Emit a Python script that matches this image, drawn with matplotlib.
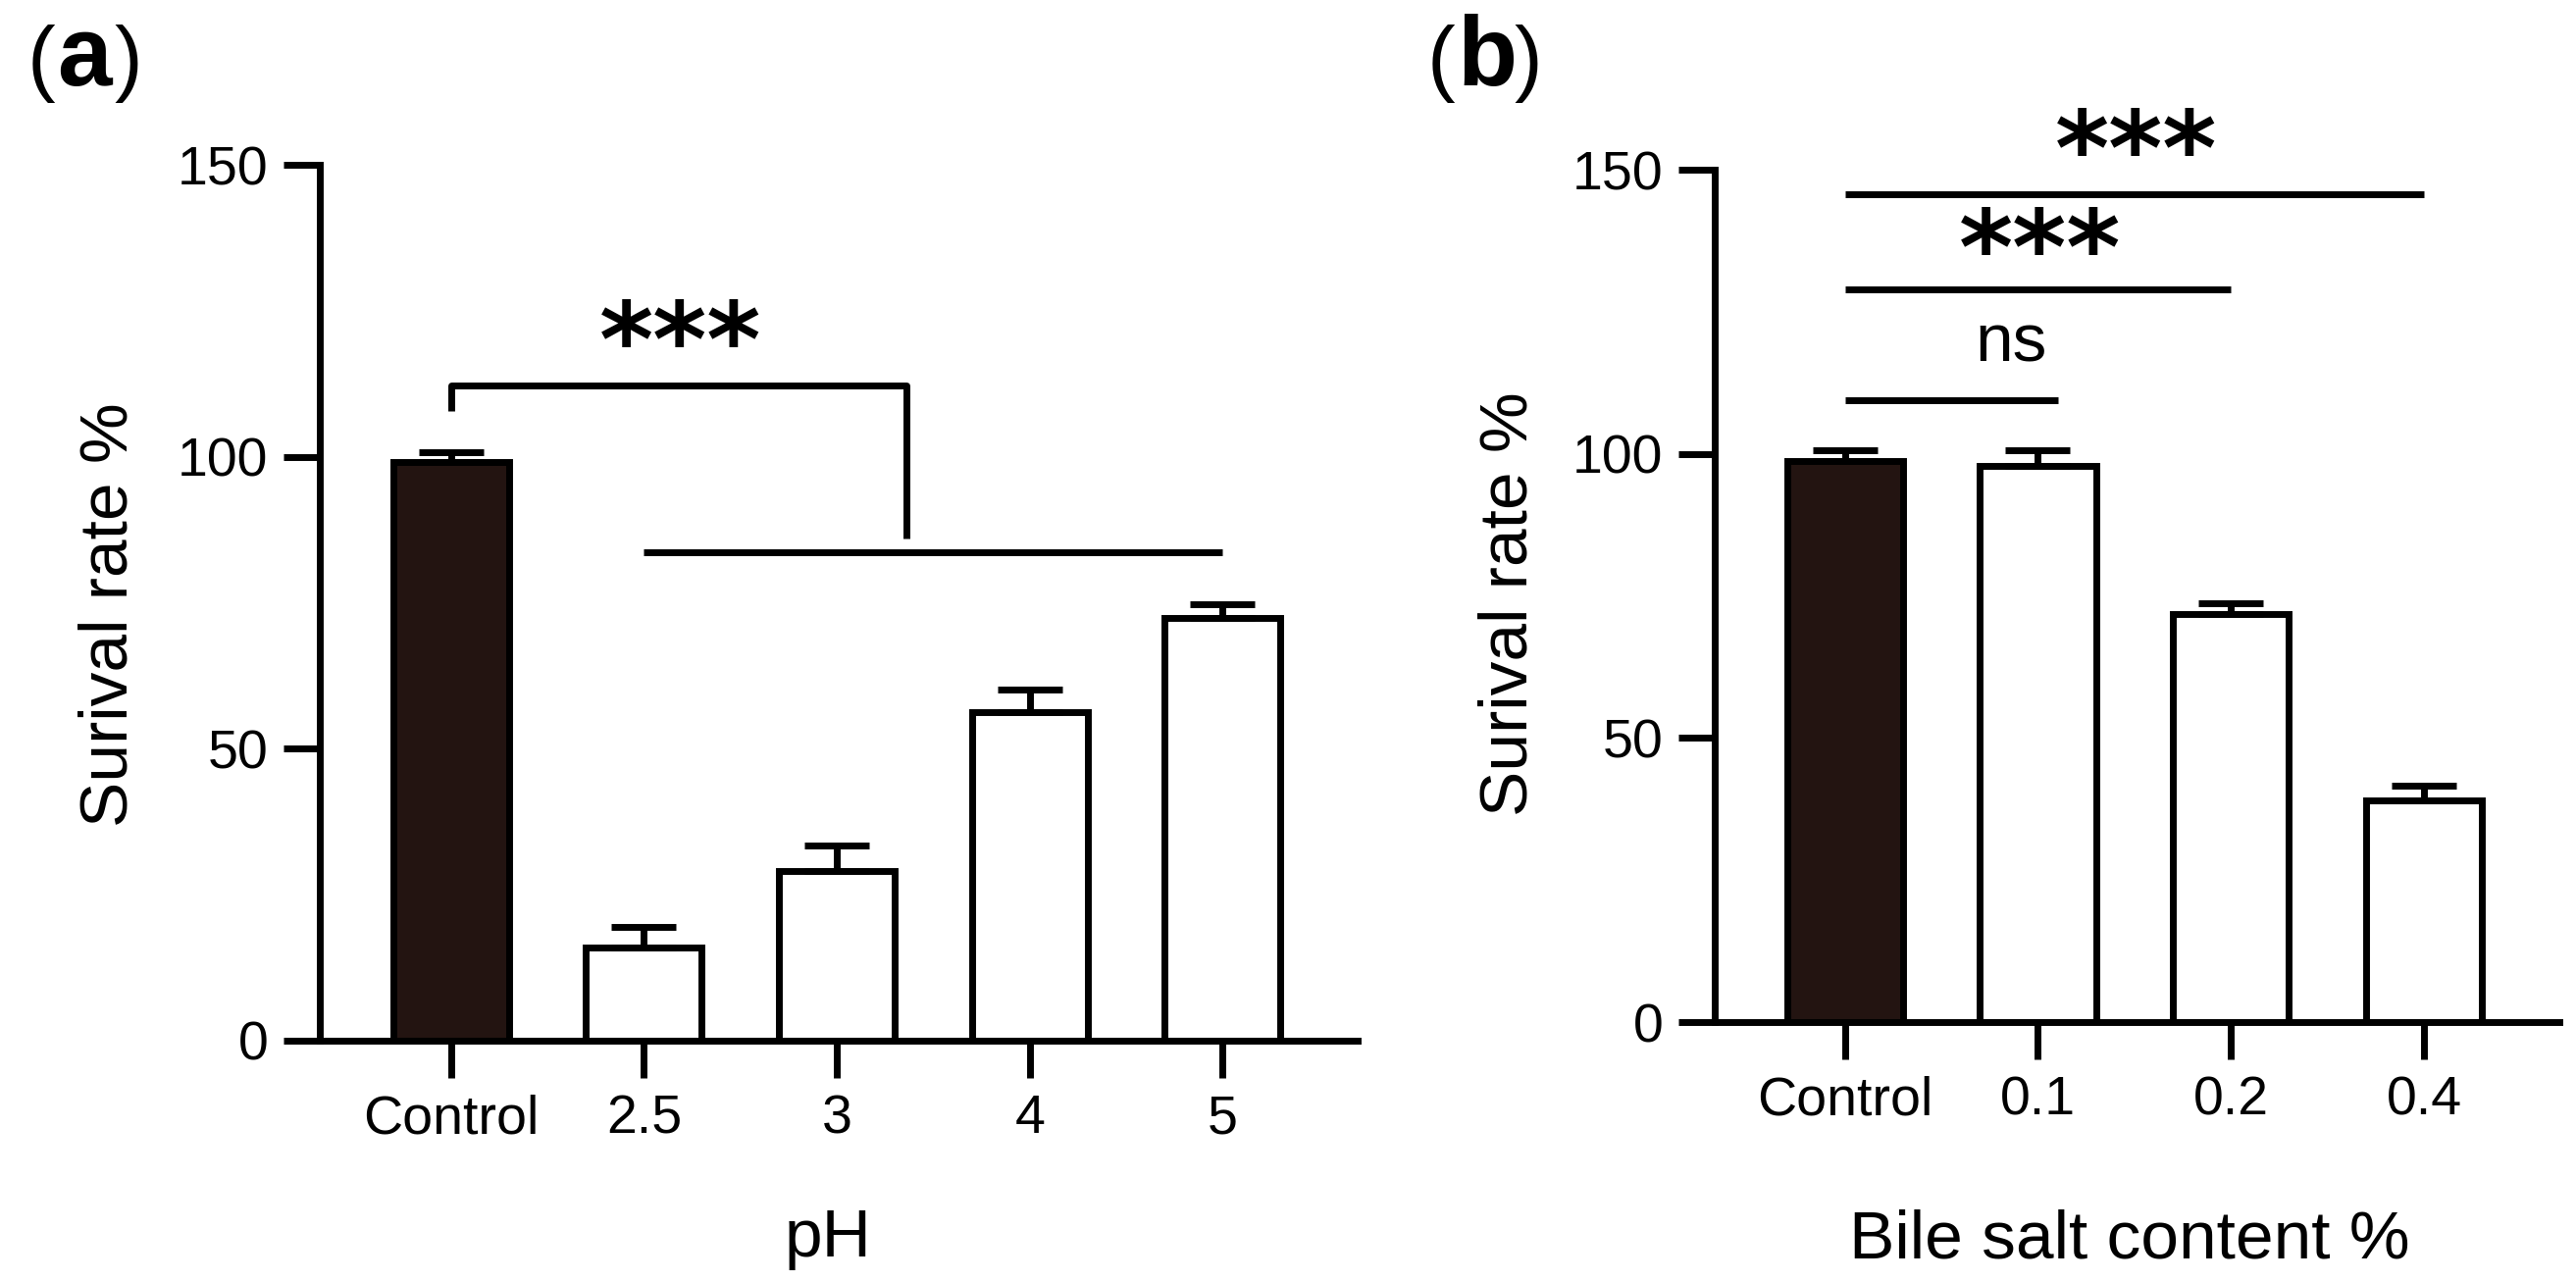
import matplotlib
matplotlib.use('Agg')
import matplotlib.pyplot as plt
import numpy as np

plt.rcParams['font.family'] = ['Liberation Sans', 'DejaVu Sans']

# panel a: acid tolerance
ph_labels = ['Control', '2.5', '3', '4', '5']
ph_mean = [99.1, 15.9, 29.0, 56.3, 72.5]
ph_err = [1.8, 3.6, 4.5, 3.8, 2.2]

# panel b: bile salt tolerance
bile_labels = ['Control', '0.1', '0.2', '0.4']
bile_mean = [98.7, 97.9, 71.8, 39.1]
bile_err = [1.9, 2.8, 2.0, 2.6]

dark = '#231411'
lw = 2.5

fig = plt.figure(figsize=(13.13, 6.53), dpi=200)
ax_a = fig.add_axes([0.12414, 0.18760, 0.40290, 0.68353])
ax_b = fig.add_axes([0.66576, 0.20214, 0.32777, 0.66516])


def draw_bars(ax, labels, mean, err, xlim):
    x = np.arange(len(labels))
    colors = [dark] + ['white'] * (len(labels) - 1)
    ax.bar(x, mean, width=0.6, color=colors, edgecolor='black', linewidth=lw, zorder=2)
    # only the upper half of the error bar, GraphPad style
    ax.errorbar(x, mean, yerr=[np.zeros(len(mean)), err], fmt='none', ecolor='black',
                elinewidth=lw, capsize=11.9, capthick=lw, zorder=3)
    ax.set_xlim(*xlim)
    ax.set_ylim(0, 150)
    ax.set_yticks([0, 50, 100, 150])
    ax.set_xticks(x)
    ax.set_xticklabels(labels)
    for s in ['top', 'right']:
        ax.spines[s].set_visible(False)
    for s in ['left', 'bottom']:
        ax.spines[s].set_linewidth(lw)
    ax.tick_params(axis='both', direction='out', length=13.5, width=lw, labelsize=20)
    ax.tick_params(axis='x', pad=6)
    ax.tick_params(axis='y', pad=5.5)


draw_bars(ax_a, ph_labels, ph_mean, ph_err, (-0.68, 4.70))
draw_bars(ax_b, bile_labels, bile_mean, bile_err, (-0.672, 3.70))

# axis labels
ax_a.set_xlabel('pH', fontsize=25, va='baseline')
ax_a.xaxis.set_label_coords(0.49, -0.2464)
ax_a.set_ylabel('Surival rate %', fontsize=25, va='baseline')
ax_a.yaxis.set_label_coords(-0.1859, 0.487)

ax_b.set_xlabel('Bile salt content %', fontsize=25, va='baseline')
ax_b.xaxis.set_label_coords(0.491, -0.2774)
ax_b.set_ylabel('Surival rate %', fontsize=25, va='baseline')
ax_b.yaxis.set_label_coords(-0.2234, 0.491)

star_kw = dict(fontsize=38, fontweight='bold', family='DejaVu Sans',
               ha='center', va='center_baseline', clip_on=False)

# significance marks, panel a
line_kw = dict(color='black', linewidth=lw, clip_on=False, solid_capstyle='butt')
ax_a.plot([0, 0, 2.36, 2.36], [107.9, 112.2, 112.2, 86.1], **line_kw)
ax_a.plot([1, 4], [83.7, 83.7], **line_kw)
ax_a.text(1.19, 120.7, '***', **star_kw)

# significance marks, panel b
ax_b.plot([0, 1.105], [109.4, 109.4], **line_kw)
ax_b.plot([0, 2.0], [129.0, 129.0], **line_kw)
ax_b.plot([0, 3.0], [145.8, 145.8], **line_kw)
ax_b.text(0.86, 116.3, 'ns', fontsize=25, ha='center', va='baseline')
ax_b.text(1.01, 137.0, '***', **star_kw)
ax_b.text(1.51, 154.4, '***', **star_kw)

# panel letters
W, H = 2626, 1306
for px, letter in [(28, 'a'), (1455, 'b')]:
    base = 1 - 87 / H
    fig.text(px / W, base, '(', fontsize=31, ha='left', va='baseline')
    fig.text((px + 30) / W, base, letter, fontsize=36, fontweight='bold', ha='left', va='baseline')
    fig.text((px + 88) / W, base, ')', fontsize=31, ha='left', va='baseline')

fig.savefig('out.png', dpi=200)
